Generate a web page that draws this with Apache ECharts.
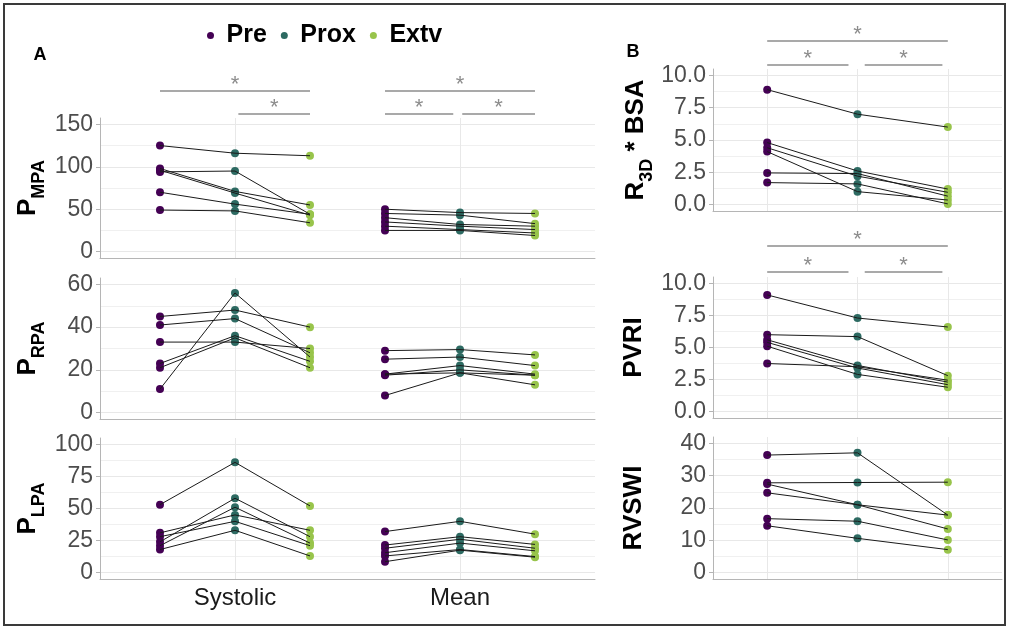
<!DOCTYPE html>
<html lang="en">
<head>
<meta charset="UTF-8">
<title>Pre / Prox / Extv</title>
<script src="https://cdn.jsdelivr.net/npm/echarts@6/dist/echarts.min.js"></script>
<style>
    html, body { margin: 0; padding: 0; background: #fff; }
    #container { width: 1009px; height: 629px; }
</style>
</head>
<body>
<div id="container"></div>
<script>
    // conditions, dodged inside every x group
    var conditions = ['Pre', 'Prox', 'Extv'];
    var groupsA = ['Systolic', 'Mean'];

    // one row per subject: [Pre, Prox, Extv]
    var mpaSystolic = [[125, 116, 113], [94, 95, 44], [98, 71, 55], [96, 69, 43], [70, 56, 44], [49, 48, 34]];
    var mpaMean = [[50, 46, 45], [45, 43, 33], [40, 32, 30], [35, 30, 26], [30, 26, 22], [25, 25, 19]];
    var rpaSystolic = [[11, 56, 26], [45, 48, 40], [41, 44, 28], [33, 33, 30], [23, 36, 24], [21, 35, 21]];
    var rpaMean = [[29, 29.5, 27], [25, 26, 22], [18, 22, 18], [17.5, 20, 17.5], [18, 18.6, 13], [8, 18.6, 17.5]];
    var lpaSystolic = [[53, 86, 52], [24, 58, 28], [31, 45, 33], [21, 51, 23], [28, 40, 21], [18, 33, 13]];
    var lpaMean = [[32, 40, 30], [21.5, 28, 22], [19, 26, 19], [15.5, 23, 17], [13, 18, 12.5], [8.5, 17.5, 12]];
    var r3dBsa = [[8.9, 7.0, 6.0], [4.8, 2.6, 1.2], [4.4, 2.2, 0.95], [4.1, 1.0, 0.35], [2.45, 2.4, 0.65], [1.7, 1.6, 0.05]];
    var pvri = [[9.1, 7.3, 6.6], [6.0, 5.85, 2.8], [5.6, 3.6, 2.3], [5.4, 3.4, 2.1], [5.1, 2.9, 1.9], [3.75, 3.5, 2.45]];
    var rvswi = [[36.4, 37.1, 17.8], [27.8, 27.9, 28], [27.4, 21, 13.5], [24.7, 21, 17.8], [16.7, 15.9, 10.1], [14.5, 10.6, 7.1]];

    // y tick labels
    var ticksMPA = [0, 50, 100, 150];
    var ticksRPA = [0, 20, 40, 60];
    var ticksLPA = [0, 25, 50, 75, 100];
    var ticksR3D = [0, 2.5, 5, 7.5, 10];
    var ticksPVRI = [0, 2.5, 5, 7.5, 10];
    var ticksRVSWI = [0, 10, 20, 30, 40];

    var colors = ['#440154', '#2D6A62', '#98C44B'];
    var FONT = '"Liberation Sans", Arial, sans-serif';
    var GRID_COLOR = '#e8e8e8';
    var AXIS_COLOR = '#b5b5b5';
    var DODGE = 1 / 3;

    var panels = [
        { name: '{p|P}{s|MPA}', groups: [mpaSystolic, mpaMean], ticks: ticksMPA, left: 100, width: 495, top: 118, height: 140, nameGap: 55, xMax: 2.6 },
        { name: '{p|P}{s|RPA}', groups: [rpaSystolic, rpaMean], ticks: ticksRPA, left: 100, width: 495, top: 278, height: 141, nameGap: 55, xMax: 2.6 },
        { name: '{p|P}{s|LPA}', groups: [lpaSystolic, lpaMean], ticks: ticksLPA, left: 100, width: 495, top: 438, height: 141, nameGap: 55, xMax: 2.6, xLabels: true },
        { name: '{p|R}{s|3D}{p| * BSA}', groups: [r3dBsa], ticks: ticksR3D, left: 713, width: 289, top: 69, height: 142, nameGap: 60, xMax: 3.6, dec: 1 },
        { name: '{p|PVRI}', groups: [pvri], ticks: ticksPVRI, left: 713, width: 289, top: 277, height: 141, nameGap: 62, xMax: 3.6, dec: 1 },
        { name: '{p|RVSWI}', groups: [rvswi], ticks: ticksRVSWI, left: 713, width: 289, top: 437, height: 142, nameGap: 62, xMax: 3.6, dec: 0 }
    ];

    var chart = echarts.init(document.getElementById('container'));

    var grids = [], xAxes = [], yAxes = [], series = [];

    panels.forEach(function (p, g) {
        var lo = p.ticks[0], hi = p.ticks[p.ticks.length - 1];
        var pad = (hi - lo) * 0.05;
        var minor = [];
        for (var i = 0; i < p.ticks.length - 1; i++) minor.push((p.ticks[i] + p.ticks[i + 1]) / 2);
        var centers = p.groups.length === 2 ? [1, 2] : [1, 2, 3];

        grids.push({ left: p.left, top: p.top, width: p.width, height: p.height });

        xAxes.push({
            type: 'value', gridIndex: g, min: 0.4, max: p.xMax,
            axisLine: { show: true, onZero: false, lineStyle: { color: AXIS_COLOR, width: 1 } },
            axisTick: { show: false, customValues: centers },
            axisLabel: {
                show: !!p.xLabels, customValues: centers, margin: 7,
                color: '#1a1a1a', fontSize: 24, fontFamily: FONT,
                formatter: function (v) { return groupsA[Math.round(v) - 1] || ''; }
            },
            splitLine: { show: true, lineStyle: { color: GRID_COLOR, width: 1 } }
        });

        yAxes.push({
            type: 'value', gridIndex: g, min: lo - pad, max: hi + pad, position: 'left',
            name: p.name, nameLocation: 'middle', nameRotate: 90, nameGap: p.nameGap,
            nameMoveOverlap: false,
            nameTextStyle: {
                rich: {
                    p: { fontSize: 26, fontWeight: 'bold', color: '#000', fontFamily: FONT, lineHeight: 30, verticalAlign: 'top' },
                    s: { fontSize: 18, fontWeight: 'bold', color: '#000', fontFamily: FONT, lineHeight: 20, verticalAlign: 'top', padding: [15, 0, 0, 0] }
                }
            },
            axisLine: { show: true, onZero: false, lineStyle: { color: AXIS_COLOR, width: 1 } },
            axisTick: { show: true, length: 4, customValues: p.ticks, lineStyle: { color: AXIS_COLOR } },
            axisLabel: {
                customValues: p.ticks, margin: 7, color: '#4d4d4d', fontSize: 23, fontFamily: FONT,
                formatter: function (v) { return p.dec ? v.toFixed(p.dec) : String(v); }
            },
            splitLine: { show: true, lineStyle: { color: GRID_COLOR, width: 1 } }
        });
        // minor horizontal grid lines
        yAxes.push({
            type: 'value', gridIndex: g, min: lo - pad, max: hi + pad, position: 'left',
            axisLine: { show: false }, axisLabel: { show: false },
            axisTick: { show: false, customValues: minor },
            splitLine: { show: true, lineStyle: { color: '#f0f0f0', width: 1 } }
        });

        // points
        conditions.forEach(function (c, k) {
            var pts = [];
            p.groups.forEach(function (grp, gi) {
                grp.forEach(function (subj) {
                    var x = p.groups.length === 2 ? gi + 1 + (k - 1) * DODGE : k + 1;
                    pts.push([x, subj[k]]);
                });
            });
            series.push({
                type: 'scatter', name: c, xAxisIndex: g, yAxisIndex: 2 * g,
                data: pts, symbolSize: 8, itemStyle: { color: colors[k], opacity: 1 }, z: 2, clip: false
            });
        });

        // subject lines
        p.groups.forEach(function (grp, gi) {
            grp.forEach(function (subj) {
                var line = subj.map(function (v, k) {
                    var x = p.groups.length === 2 ? gi + 1 + (k - 1) * DODGE : k + 1;
                    return [x, v];
                });
                series.push({
                    type: 'line', xAxisIndex: g, yAxisIndex: 2 * g, data: line,
                    showSymbol: false, silent: true, z: 3,
                    lineStyle: { color: '#1a1a1a', width: 1 }
                });
            });
        });
    });

    chart.setOption({
        animation: false,
        backgroundColor: '#fff',
        textStyle: { fontFamily: FONT },
        legend: {
            data: conditions, left: 202, top: 18, icon: 'circle',
            itemWidth: 22, itemHeight: 7, itemGap: 14,
            textStyle: { fontSize: 25, fontWeight: 'bold', color: '#000', fontFamily: FONT }
        },
        grid: grids,
        xAxis: xAxes,
        yAxis: yAxes,
        series: series
    });

    // significance brackets (x in data units, y offset in px above the grid)
    var sigA = [
        { c: 1, from: -DODGE, to: DODGE, dy: -27 },
        { c: 1, from: 0.015, to: DODGE, dy: -4 },
        { c: 2, from: -DODGE, to: DODGE, dy: -27 },
        { c: 2, from: -DODGE, to: -0.03, dy: -4 },
        { c: 2, from: 0.01, to: DODGE, dy: -4 }
    ];
    var sigB = [
        { c: 0, from: 1, to: 3, dy: -28 },
        { c: 0, from: 1, to: 1.9, dy: -4 },
        { c: 0, from: 2.08, to: 2.94, dy: -4 }
    ];

    var graphics = [];
    function addBrackets(list, gridIdx, extraLong, extraShort) {
        var top = panels[gridIdx].top;
        list.forEach(function (b) {
            var x1 = chart.convertToPixel({ xAxisIndex: gridIdx }, b.c + b.from);
            var x2 = chart.convertToPixel({ xAxisIndex: gridIdx }, b.c + b.to);
            var y = top + b.dy + (b.dy < -10 ? extraLong : extraShort);
            graphics.push({
                type: 'line', shape: { x1: x1, y1: y, x2: x2, y2: y },
                style: { stroke: '#8c8c8c', lineWidth: 1.3 }, silent: true
            });
            graphics.push({
                type: 'text', x: (x1 + x2) / 2, y: y - 6,
                style: { text: '*', fontSize: 22, fill: '#8c8c8c', fontFamily: FONT, align: 'center', verticalAlign: 'middle' },
                silent: true
            });
        });
    }
    addBrackets(sigA, 0, 0, 0);
    addBrackets(sigB, 3, 0, 0);
    addBrackets(sigB, 4, -3, -1);

    graphics.push({
        type: 'rect', shape: { x: 4, y: 4, width: 1001, height: 621 },
        style: { fill: 'none', stroke: '#3a3a3a', lineWidth: 2 }, silent: true
    });
    graphics.push({ type: 'text', x: 40, y: 55, style: { text: 'A', fontSize: 18, fontWeight: 'bold', fill: '#000', fontFamily: FONT, align: 'center', verticalAlign: 'middle' } });
    graphics.push({ type: 'text', x: 633, y: 52, style: { text: 'B', fontSize: 18, fontWeight: 'bold', fill: '#000', fontFamily: FONT, align: 'center', verticalAlign: 'middle' } });

    chart.setOption({ graphic: graphics });
</script>
</body>
</html>
